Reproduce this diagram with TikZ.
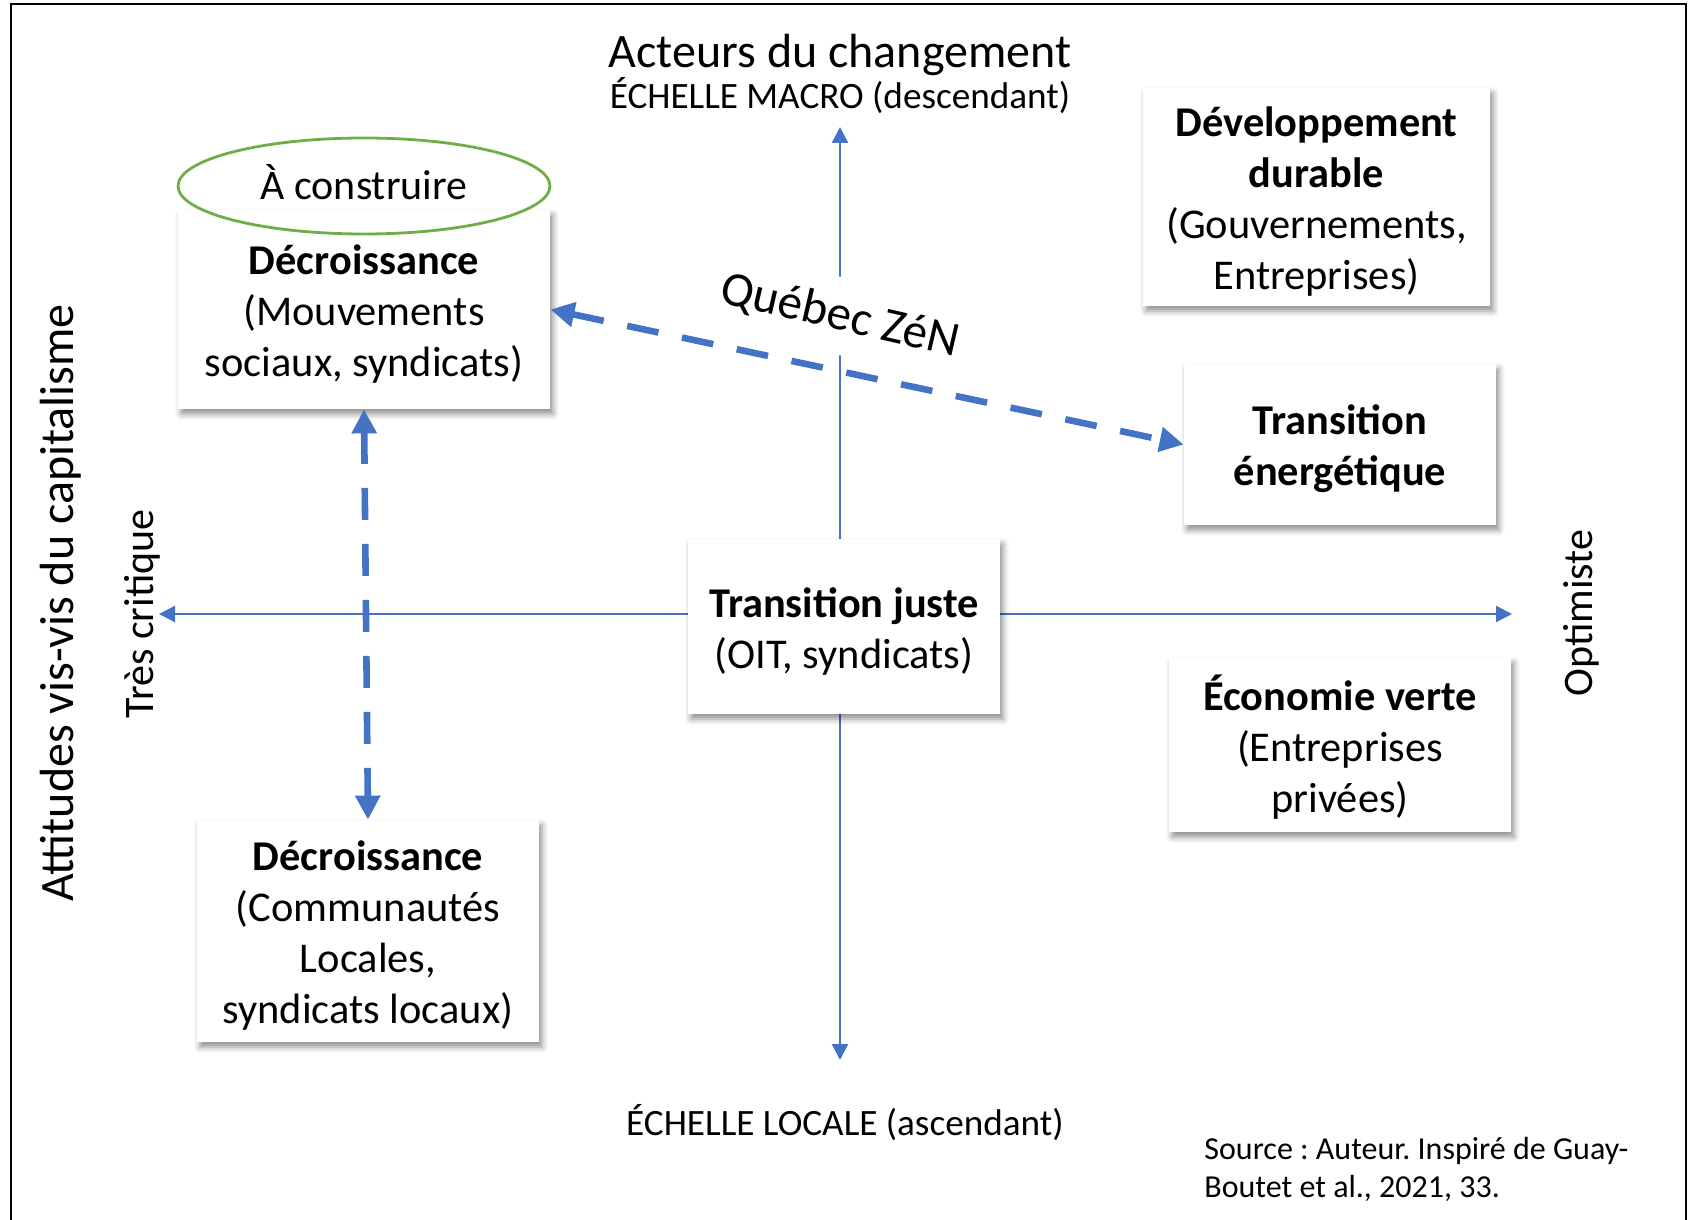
\documentclass[tikz,border=0pt]{standalone}
\usepackage{fontspec}
\setmainfont{Carlito}
\usetikzlibrary{arrows.meta,shapes.geometric,shadows.blur}
\definecolor{axisblue}{HTML}{4472C4}
\definecolor{leafgreen}{HTML}{70AD47}
\newcommand{\fsz}[2]{\fontsize{#1}{#2}\selectfont}
% fixed height for the first line of every box
\newcommand{\firstline}{\rule{0pt}{19.5pt}}
\frenchspacing

\begin{document}
\begin{tikzpicture}[x=0.5pt,y=-0.5pt,
  axis/.style={draw=axisblue, line width=1.2pt, -{Triangle[length=8pt,width=8pt]}},
  link/.style={draw=axisblue, line width=3.3pt, dash pattern=on 16pt off 12pt,
    {Triangle[length=12pt,width=12pt]}-{Triangle[length=12pt,width=12pt]}},
  card/.style={fill=white, align=center, inner sep=0pt, font=\fsz{21.2pt}{25.5pt},
    blur shadow={shadow xshift=1.5pt, shadow yshift=-2.5pt, shadow blur radius=3pt, shadow opacity=45}},
  axislabel/.style={inner sep=0pt, font=\fsz{21pt}{25.5pt}},
  scalelabel/.style={inner sep=0pt, font=\fsz{18.6pt}{22pt}},
  biglabel/.style={inner sep=0pt, font=\fsz{24pt}{29pt}}
]
\useasboundingbox (0,0) rectangle (1688,1220);

% outer frame (open at the bottom)
\draw[line width=1pt] (10.5,1222) -- (10.5,4.5) -- (1685.5,4.5) -- (1685.5,1222);

% axes
\coordinate (o) at (840,614);
\coordinate (top) at (840,127);
\coordinate (bottom) at (840,1060);
\coordinate (left) at (159,614);
\coordinate (right) at (1512,614);
\draw[axis] (o) -- (top);
\draw[axis] (o) -- (bottom);
\draw[axis] (o) -- (left);
\draw[axis] (o) -- (right);

% axis titles
\node[biglabel] (title) at (840,54.5) {Acteurs du changement};
\node[scalelabel] (macro) at (840,96) {ÉCHELLE MACRO (descendant)};
\node[scalelabel] (local) at (845,1123) {ÉCHELLE LOCALE (ascendant)};
\node[biglabel, rotate=90] (attitude) at (61,603) {Attitudes vis-vis du capitalisme};
\node[axislabel, rotate=90] (critique) at (142,614) {Très critique};
\node[axislabel, rotate=90] (optim) at (1581,613) {Optimiste};

% label across the upper axis
\node[rotate=-13, fill=white, inner xsep=2pt, inner ysep=9pt, font=\fsz{24.5pt}{29pt}] (qz) at (840,316) {Québec ZéN};

% boxes
\node[card, minimum width=186pt, minimum height=99.5pt] (d1) at (364,309.5)
  {\firstline\textbf{Décroissance}\\(Mouvements\\sociaux, syndicats)};
\node[card, minimum width=173.5pt, minimum height=109pt] (dd) at (1316.5,197)
  {\firstline\textbf{Développement}\\\textbf{durable}\\(Gouvernements,\\Entreprises)};
\node[card, minimum width=156pt, minimum height=80.5pt] (te) at (1340,444.5)
  {\firstline\textbf{Transition}\\\textbf{énergétique}};
\node[card, minimum width=156pt, minimum height=87.5pt] (tj) at (844,626.5)
  {\firstline\textbf{Transition juste}\\(OIT, syndicats)};
\node[card, minimum width=171pt, minimum height=87pt] (ev) at (1340,745)
  {\firstline\textbf{Économie verte}\\(Entreprises\\privées)};
\node[card, minimum width=171pt, minimum height=111pt] (d2) at (368,931)
  {\firstline\textbf{Décroissance}\\(Communautés\\Locales,\\syndicats locaux)};

% ellipse on top of the first box
\node[ellipse, draw=leafgreen, line width=1.4pt, minimum width=186pt, minimum height=48pt,
  inner sep=0pt, text height=13.5pt, text depth=0pt, font=\fsz{21pt}{25.5pt}] (todo) at (364,186) {À construire};

% dashed links
\draw[link] (d1.east) -- (te.west);
\draw[link] (d1.south) -- (d2.north);

% source note
\node[anchor=west, align=left, inner sep=0pt, font=\fsz{16pt}{18.8pt}] (source) at (1204,1169.5)
  {Source : Auteur. Inspiré de Guay-\\Boutet et al., 2021, 33.};
\end{tikzpicture}
\end{document}
